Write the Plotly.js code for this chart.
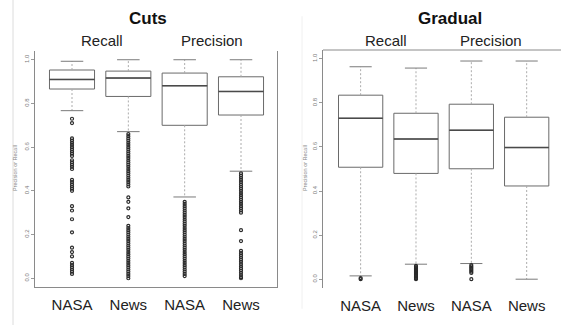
<!DOCTYPE html>
<html>
<head>
<meta charset="utf-8">
<script src="https://cdn.plot.ly/plotly-3.0.1.min.js"></script>
<style>html,body{margin:0;padding:0;background:#fff;}#chart{width:561px;height:325px;}</style>
</head>
<body>
<div id="chart"></div>
<script>
// ---- data ----
const categories = ['NASA', 'News', 'NASA', 'News'];
const groupNames = ['Recall NASA', 'Recall News', 'Precision NASA', 'Precision News'];
const yTickVals = [0, 0.2, 0.4, 0.6, 0.8, 1.0];
const yTickText = ['0.0', '0.2', '0.4', '0.6', '0.8', '1.0'];

// Cuts panel
const cutsQ1 = [0.866, 0.832, 0.700, 0.747];
const cutsMedian = [0.910, 0.916, 0.881, 0.855];
const cutsQ3 = [0.953, 0.948, 0.939, 0.922];
const cutsLowWhisker = [0.767, 0.671, 0.372, 0.490];
const cutsHighWhisker = [0.993, 1.0, 1.0, 1.0];
const cutsOutNasaRecall = [0.73, 0.71, 0.64, 0.63, 0.62, 0.61, 0.60, 0.59, 0.58, 0.57, 0.56, 0.54, 0.53, 0.52, 0.51, 0.50, 0.45, 0.44, 0.43, 0.42, 0.41, 0.40, 0.33, 0.31, 0.27, 0.21, 0.14, 0.12, 0.10, 0.07, 0.06, 0.05, 0.04, 0.03, 0.02];
const cutsOutNewsRecall = [0.66, 0.65, 0.64, 0.63, 0.62, 0.61, 0.60, 0.59, 0.58, 0.57, 0.56, 0.55, 0.54, 0.53, 0.52, 0.51, 0.50, 0.49, 0.48, 0.47, 0.46, 0.45, 0.44, 0.43, 0.42, 0.37, 0.35, 0.32, 0.28, 0.24, 0.23, 0.22, 0.21, 0.20, 0.19, 0.18, 0.17, 0.16, 0.15, 0.14, 0.13, 0.12, 0.11, 0.10, 0.09, 0.08, 0.07, 0.06, 0.05, 0.04, 0.03, 0.02, 0.01, 0.0];
const cutsOutNasaPrecision = [0.35, 0.34, 0.33, 0.32, 0.31, 0.30, 0.29, 0.28, 0.27, 0.26, 0.25, 0.24, 0.23, 0.22, 0.21, 0.20, 0.19, 0.18, 0.17, 0.16, 0.15, 0.14, 0.13, 0.12, 0.11, 0.10, 0.09, 0.08, 0.07, 0.06, 0.05, 0.04, 0.03, 0.02, 0.01];
const cutsOutNewsPrecision = [0.48, 0.47, 0.46, 0.45, 0.44, 0.43, 0.42, 0.41, 0.40, 0.39, 0.38, 0.37, 0.36, 0.35, 0.34, 0.33, 0.32, 0.31, 0.30, 0.22, 0.17, 0.125, 0.115, 0.105, 0.095, 0.085, 0.075, 0.065, 0.055, 0.045, 0.035, 0.025, 0.015, 0.005, 0.0];

// Gradual panel
const gradQ1 = [0.508, 0.480, 0.501, 0.423];
const gradMedian = [0.730, 0.636, 0.676, 0.597];
const gradQ3 = [0.835, 0.753, 0.794, 0.735];
const gradLowWhisker = [0.015, 0.068, 0.071, 0.0];
const gradHighWhisker = [0.964, 0.958, 0.990, 0.990];
const gradOutNasaRecall = [0.005, 0.0];
const gradOutNewsRecall = [0.06, 0.055, 0.05, 0.045, 0.04, 0.035, 0.03, 0.025, 0.02, 0.015, 0.01, 0.005, 0.0];
const gradOutNasaPrecision = [0.064, 0.058, 0.052, 0.046, 0.04, 0.034, 0.028, 0.0];
const gradOutNewsPrecision = [];

// ---- build ----
const positions = categories.map((c, i) => i + 1);
const BOXW = 0.8, CAPW = 0.4;
const traces = [];

function panel(xa, ya, q1, med, q3, lo, hi, outs) {
  // whiskers (dashed)
  const wx = [], wy = [];
  positions.forEach((p, i) => { wx.push(p, p, null, p, p, null); wy.push(q3[i], hi[i], null, q1[i], lo[i], null); });
  traces.push({type: 'scatter', mode: 'lines', x: wx, y: wy, xaxis: xa, yaxis: ya,
    line: {color: '#ababab', width: 1, dash: '2px,2px'}, hoverinfo: 'skip', showlegend: false});
  // staples
  const cx = [], cy = [];
  positions.forEach((p, i) => { cx.push(p - CAPW / 2, p + CAPW / 2, null, p - CAPW / 2, p + CAPW / 2, null); cy.push(hi[i], hi[i], null, lo[i], lo[i], null); });
  traces.push({type: 'scatter', mode: 'lines', x: cx, y: cy, xaxis: xa, yaxis: ya,
    line: {color: '#7a7a7a', width: 1}, hoverinfo: 'skip', showlegend: false});
  // boxes
  traces.push({type: 'box', x: positions, q1: q1, median: med, q3: q3, lowerfence: q1, upperfence: q3,
    width: BOXW, whiskerwidth: 0, fillcolor: '#ffffff', line: {color: '#6a6a6a', width: 1},
    boxpoints: false, xaxis: xa, yaxis: ya, hoverinfo: 'skip', showlegend: false, name: ''});
  // medians
  const mx = [], my = [];
  positions.forEach((p, i) => { mx.push(p - BOXW / 2, p + BOXW / 2, null); my.push(med[i], med[i], null); });
  traces.push({type: 'scatter', mode: 'lines', x: mx, y: my, xaxis: xa, yaxis: ya,
    line: {color: '#4a4a4a', width: 1.5}, hoverinfo: 'skip', showlegend: false});
  // outliers
  const ox = [], oy = [];
  outs.forEach((arr, i) => arr.forEach(v => { ox.push(positions[i]); oy.push(v); }));
  traces.push({type: 'scatter', mode: 'markers', x: ox, y: oy, xaxis: xa, yaxis: ya,
    marker: {symbol: 'circle-open', size: 3, color: '#2a2a2a', line: {width: 1.2, color: '#2a2a2a'}},
    hoverinfo: 'skip', showlegend: false});
}

panel('x', 'y', cutsQ1, cutsMedian, cutsQ3, cutsLowWhisker, cutsHighWhisker,
  [cutsOutNasaRecall, cutsOutNewsRecall, cutsOutNasaPrecision, cutsOutNewsPrecision]);
panel('x2', 'y2', gradQ1, gradMedian, gradQ3, gradLowWhisker, gradHighWhisker,
  [gradOutNasaRecall, gradOutNewsRecall, gradOutNasaPrecision, gradOutNewsPrecision]);

const W = 561, H = 325;
const xTickFont = {family: 'Liberation Sans, Arial, sans-serif', size: 15, color: '#222'};
const yTickFont = {family: 'Liberation Sans, Arial, sans-serif', size: 6, color: '#7a7a7a'};

function xaxisDef(domain, range, showline) {
  return {domain: domain, range: range, tickvals: positions, ticktext: categories, tickfont: xTickFont,
    ticks: 'outside', ticklen: 4, tickcolor: 'rgba(0,0,0,0)', showline: showline, linecolor: '#8a8a8a', linewidth: 1,
    showgrid: false, zeroline: false, fixedrange: true};
}
function yaxisDef(domain, anchor, mirror) {
  return {domain: domain, anchor: anchor, range: [-0.04, 1.04], tickvals: yTickVals, ticktext: yTickText,
    tickangle: -90, tickfont: yTickFont, ticks: 'outside', ticklen: 3, tickcolor: '#9a9a9a',
    showline: true, mirror: mirror, linecolor: '#8a8a8a', linewidth: 1, showgrid: false, zeroline: false, fixedrange: true};
}

const titleFont = {family: 'Liberation Sans, Arial, sans-serif', size: 15, color: '#222'};
const boldFont = {family: 'Liberation Sans, Arial, sans-serif', size: 17, color: '#111', weight: 'bold'};
function ann(text, px, py, font, angle) {
  return {text: text, x: px / W, y: 1 - py / H, xref: 'paper', yref: 'paper', xanchor: 'center', yanchor: 'middle',
    showarrow: false, font: font, textangle: angle || 0};
}
const ytFont = {family: 'Liberation Sans, Arial, sans-serif', size: 5.5, color: '#888'};

const layout = {
  width: W, height: H, margin: {l: 0, r: 0, t: 0, b: 0},
  paper_bgcolor: '#ffffff', plot_bgcolor: 'rgba(0,0,0,0)', showlegend: false,
  xaxis: Object.assign(xaxisDef([35 / W, 277 / W], [0.343, 4.639], true), {anchor: 'y'}),
  yaxis: yaxisDef([1 - 287 / H, 1 - 51 / H], 'x', true),
  xaxis2: Object.assign(xaxisDef([323 / W, 1], [0.32, 4.62], false), {anchor: 'y2'}),
  yaxis2: yaxisDef([1 - 288 / H, 1 - 50 / H], 'x2', false),
  annotations: [
    ann('<b>Cuts</b>', 147.5, 19, boldFont),
    ann('Recall', 101.5, 40, titleFont),
    ann('Precision', 211.5, 40, titleFont),
    ann('<b>Gradual</b>', 450, 19, boldFont),
    ann('Recall', 385.5, 40, titleFont),
    ann('Precision', 490.5, 40, titleFont),
    ann('Precision or Recall', 15, 168, ytFont, -90),
    ann('Precision or Recall', 305, 168, ytFont, -90)
  ],
  shapes: [
    {type: 'line', xref: 'paper', yref: 'paper', x0: 13 / W, x1: 13 / W, y0: 0, y1: 1, line: {color: '#dcdcdc', width: 1}},
    {type: 'line', xref: 'paper', yref: 'paper', x0: 302 / W, x1: 302 / W, y0: 0.05, y1: 0.95, line: {color: '#f0f0f0', width: 1}},
    {type: 'line', xref: 'paper', yref: 'y2 domain', x0: 323 / W, x1: 1, y0: 1, y1: 1, line: {color: '#8a8a8a', width: 1}}
  ]
};

Plotly.newPlot('chart', traces, layout, {staticPlot: true, displayModeBar: false});
</script>
</body>
</html>
